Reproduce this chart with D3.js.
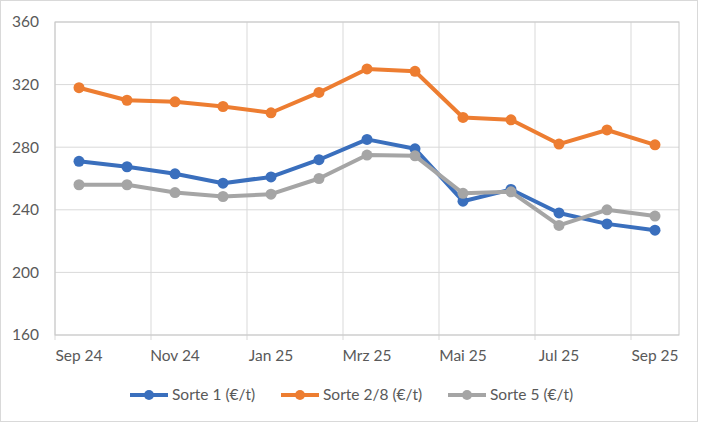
<!DOCTYPE html>
<html lang="de">
<head>
  <meta charset="UTF-8">
  <title>Sorten Preise</title>
  <style>
    body { margin: 0; background: #fff; }
    #chart { display: block; }
    text { font-family: Lato, "Open Sans", sans-serif; fill: #595959; }
  </style>
</head>
<body>
  <svg id="chart"></svg>
  <script src="https://d3js.org/d3.v7.min.js"></script>
  <script>
    const width = 701;
    const height = 423;
    const margin = { top: 22, right: 22, bottom: 88, left: 55 };

    // months (categories) and labels shown on the axis
    const months = ["Sep 24", "Okt 24", "Nov 24", "Dez 24", "Jan 25", "Feb 25", "Mrz 25",
                    "Apr 25", "Mai 25", "Jun 25", "Jul 25", "Aug 25", "Sep 25"];
    const sorte1 = [271, 267.5, 263, 257, 261, 272, 285, 279, 245.5, 253, 238, 231, 227];
    const sorte28 = [318, 310, 309, 306, 302, 315, 330, 328.5, 299, 297.5, 282, 291, 281.5];
    const sorte5 = [256, 256, 251, 248.5, 250, 260, 275, 274.5, 250.5, 251.5, 230, 240, 236];
    const yTicks = [160, 200, 240, 280, 320, 360];

    const series = [
      { name: "Sorte 1 (€/t)", values: sorte1, color: "#3a6fbd" },
      { name: "Sorte 2/8 (€/t)", values: sorte28, color: "#ed7d31" },
      { name: "Sorte 5 (€/t)", values: sorte5, color: "#a5a5a5" }
    ];

    const fontSize = 15.5;
    const innerW = width - margin.left - margin.right;
    const innerH = height - margin.top - margin.bottom;

    const svg = d3.select("#chart")
      .attr("width", width)
      .attr("height", height);

    // outer chart border
    svg.append("rect")
      .attr("x", 0.5).attr("y", 0.5)
      .attr("width", width - 4).attr("height", height - 2)
      .attr("fill", "#fff")
      .attr("stroke", "#d9d9d9");

    const x = d3.scaleBand()
      .domain(months)
      .range([0, innerW]);

    const y = d3.scaleLinear()
      .domain([160, 360])
      .range([innerH, 0]);

    const g = svg.append("g")
      .attr("transform", `translate(${margin.left},${margin.top})`);

    // horizontal gridlines
    g.append("g")
      .selectAll("line")
      .data(yTicks)
      .join("line")
      .attr("x1", 0).attr("x2", innerW)
      .attr("y1", d => y(d)).attr("y2", d => y(d))
      .attr("stroke", "#d9d9d9");

    // vertical gridlines every second month boundary
    const boundaries = months.filter((m, i) => i % 2 === 0).map(m => x(m));
    g.append("g")
      .selectAll("line")
      .data(boundaries)
      .join("line")
      .attr("x1", d => d).attr("x2", d => d)
      .attr("y1", 0).attr("y2", innerH + 5)
      .attr("stroke", "#d9d9d9");

    // plot area frame
    g.append("rect")
      .attr("width", innerW).attr("height", innerH)
      .attr("fill", "none")
      .attr("stroke", "#c8c8c8");

    // y axis labels
    g.append("g")
      .selectAll("text")
      .data(yTicks)
      .join("text")
      .attr("x", -16)
      .attr("y", d => y(d))
      .attr("dy", "0.35em")
      .attr("text-anchor", "end")
      .attr("font-size", fontSize)
      .text(d => d);

    // x axis labels
    g.append("g")
      .selectAll("text")
      .data(months.filter((m, i) => i % 2 === 0))
      .join("text")
      .attr("x", d => x(d) + x.bandwidth() / 2)
      .attr("y", innerH + 26)
      .attr("text-anchor", "middle")
      .attr("font-size", fontSize)
      .text(d => d);

    const line = d3.line()
      .x((d, i) => x(months[i]) + x.bandwidth() / 2)
      .y(d => y(d));

    series.forEach(s => {
      g.append("path")
        .datum(s.values)
        .attr("fill", "none")
        .attr("stroke", s.color)
        .attr("stroke-width", 4)
        .attr("stroke-linejoin", "round")
        .attr("d", line);
      g.append("g")
        .selectAll("circle")
        .data(s.values)
        .join("circle")
        .attr("cx", (d, i) => x(months[i]) + x.bandwidth() / 2)
        .attr("cy", d => y(d))
        .attr("r", 5.5)
        .attr("fill", s.color);
    });

    // legend
    const legendX = [130, 281, 448];
    const legend = svg.append("g")
      .attr("transform", "translate(0,395)");
    series.forEach((s, i) => {
      const lg = legend.append("g").attr("transform", `translate(${legendX[i]},0)`);
      lg.append("line")
        .attr("x1", 0).attr("x2", 38)
        .attr("stroke", s.color).attr("stroke-width", 4);
      lg.append("circle")
        .attr("cx", 19).attr("r", 5)
        .attr("fill", s.color);
      lg.append("text")
        .attr("x", 42)
        .attr("dy", "0.35em")
        .attr("font-size", fontSize)
        .text(s.name);
    });
  </script>
</body>
</html>
